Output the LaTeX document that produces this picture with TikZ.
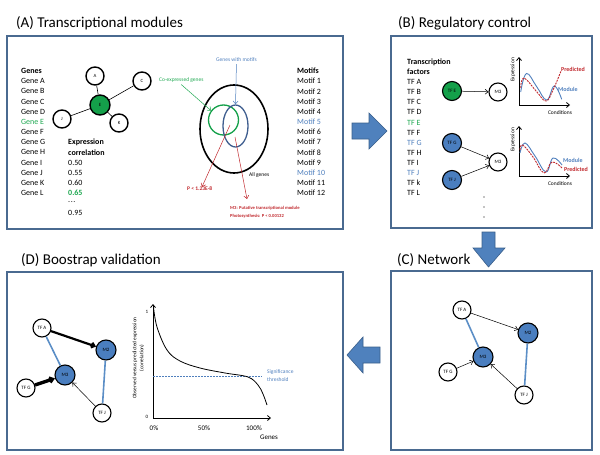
\documentclass[tikz,border=0pt]{standalone}
\usepackage{fontspec}
\setmainfont{Carlito}
\usetikzlibrary{arrows.meta,shapes.geometric}
\definecolor{frame}{HTML}{4A6A90}
\definecolor{ablue}{HTML}{4F81BD}
\definecolor{adark}{HTML}{3A5F8B}
\definecolor{ngreen}{HTML}{14A04A}
\definecolor{tgreen}{HTML}{1FA851}
\definecolor{tblue}{HTML}{4F7FBD}
\definecolor{nblue}{HTML}{4A7EBF}
\definecolor{lblue}{HTML}{5B8EC6}
\definecolor{vblue}{HTML}{3F5E8F}
\definecolor{tred}{HTML}{C0282D}
\begin{document}
\begin{tikzpicture}[x=1pt,y=-1pt,
  panel/.style={draw=frame,line width=1.1pt},
  ttl/.style={anchor=west,inner sep=0,font=\fontsize{15}{17}\selectfont},
  lst/.style={anchor=west,inner sep=0,font=\fontsize{8}{9}\selectfont},
  hdr/.style={anchor=west,inner sep=0,font=\fontsize{8}{9}\selectfont\bfseries},
  gnode/.style={circle,draw,line width=1.4pt,fill=white,minimum size=18pt,inner sep=0,font=\fontsize{4.8}{5}\selectfont},
  tnode/.style={circle,draw,line width=1.1pt,fill=white,minimum size=18pt,inner sep=0,font=\fontsize{5}{5}\selectfont},
  mnode/.style={tnode,fill=nblue,minimum size=20pt},
  bigarrow/.style={fill=ablue,draw=adark,line width=0.6pt},
  arr/.style={-{Straight Barb[length=3pt,width=5pt]},line width=0.5pt},
  axisl/.style={{Straight Barb[length=3pt,width=5pt]}-{Straight Barb[length=3pt,width=5pt]},line width=0.8pt},
  small/.style={inner sep=0,font=\fontsize{5.5}{6.5}\selectfont},
  bline/.style={draw=lblue,line width=1.6pt},
]
\useasboundingbox (0,0) rectangle (600,455);

% ---------- panels ----------
\draw[panel] (7,36) rectangle (343,229);
\draw[panel] (391,36) rectangle (592,228);
\draw[panel] (391,271) rectangle (592,450);
\draw[panel] (7,272) rectangle (343,450);
\node[ttl] (tA) at (16,23) {(A) Transcriptional modules};
\node[ttl] (tB) at (398,23) {(B) Regulatory control};
\node[ttl] (tC) at (397,260) {(C) Network};
\node[ttl] (tD) at (21,260) {(D) Boostrap validation};

% ---------- big arrows ----------
\draw[bigarrow] (352,123) -- (369,123) -- (369,113) -- (387,131) -- (369,149) -- (369,139) -- (352,139) -- cycle;
\draw[bigarrow] (482,232) -- (495,232) -- (495,248) -- (505,248) -- (488.5,267) -- (473,248) -- (482,248) -- cycle;
\draw[bigarrow] (380,347) -- (363,347) -- (363,337) -- (347,355) -- (363,373) -- (363,363) -- (380,363) -- cycle;

% ---------- Panel A ----------
\node[hdr] (genes) at (21,71) {Genes};
\foreach \g/\c [count=\i] in {A/black,B/black,C/black,D/black,E/tgreen,F/black,G/black,H/black,I/black,J/black,K/black,L/black}
  \node[lst,text=\c] (gene\i) at (21,71+10.17*\i) {Gene \g};
\node[hdr] (expr1) at (68,142.2) {Expression};
\node[hdr] (expr2) at (68,152.4) {correlation};
\node[lst] (v1) at (68,162.6) {0.50};
\node[lst] (v2) at (68,172.7) {0.55};
\node[lst] (v3) at (68,182.9) {0.60};
\node[lst,text=tgreen,font=\fontsize{8}{9}\selectfont\bfseries] (v4) at (68,193.1) {0.65};
\node[lst] (v5) at (68,202.5) {.\kern0.6pt.\kern0.6pt.};
\node[lst] (v6) at (68,213.4) {0.95};

\node[gnode] (nA) at (95,76) {A};
\node[gnode] (nC) at (142,81) {C};
\node[gnode] (nJ) at (62,119) {J};
\node[gnode] (nK) at (119,123) {K};
\node[gnode,fill=ngreen,minimum size=20pt] (nE) at (100,105) {E};
\draw[line width=0.6pt] (nE) -- (nA);
\draw[line width=0.6pt] (nE) -- (nC);
\draw[line width=0.6pt] (nE) -- (nJ);
\draw[line width=0.6pt] (nE) -- (nK);

\node[ellipse,draw,line width=1.6pt,minimum width=68pt,minimum height=88pt,inner sep=0] (allg) at (234,129) {};
\node[circle,draw=ngreen,line width=1.3pt,minimum size=30pt,inner sep=0] (gc) at (223.5,120) {};
\node[ellipse,draw=vblue,line width=1.3pt,minimum width=25pt,minimum height=42pt,inner sep=0] (bc) at (235.5,126) {};
\node[small,anchor=west,text=tgreen] (colbl) at (159,80) {Co-expressed genes};
\node[small,anchor=west,text=tblue] (mlbl) at (216,60) {Genes with motifs};
\draw[arr,draw=tgreen] (colbl.south) ++(0,2) -- (gc.143);
\draw[arr,draw=tblue] (mlbl.south) ++(0,2) -- (bc.north);
\node[small,anchor=west] (alllbl) at (249,175) {All genes};
\node[small,anchor=west,text=tred,font=\fontsize{5.5}{6.5}\selectfont\bfseries] (pval) at (187,189) {P < 1.23E-8};
\node[small,anchor=west,text=tred,font=\fontsize{4.6}{6}\selectfont\bfseries] (m3lbl) at (230,208) {M3: Putative transcriptional module};
\node[small,anchor=west,text=tred,font=\fontsize{4.6}{6}\selectfont\bfseries] (photo) at (230,216) {Photosynthesis: P < 0.00132};
\coordinate (r1s) at (230,125);
\coordinate (r2s) at (235,137);
\coordinate (r2e) at (247,199);
\draw[arr,draw=tred] (r1s) -- (pval.north -| 202,0);
\draw[arr,draw=tred] (r2s) -- (r2e);

\node[hdr] (motifs) at (297,71) {Motifs};
\foreach \c [count=\i] in {black,black,black,black,tblue,black,black,black,black,tblue,black,black}
  \node[lst,text=\c] (motif\i) at (297,71+10.17*\i) {Motif \i};

% ---------- Panel B ----------
\node[hdr] (tf1) at (407,62) {Transcription};
\node[hdr] (tf2) at (407,72) {factors};
\foreach \g/\c [count=\i] in {A/black,B/black,C/black,D/black,E/tgreen,F/black,G/tblue,H/black,I/black,J/tblue,k/black,L/black}
  \node[lst,text=\c] (tfl\i) at (407,72+10.1*\i) {TF \g};

\node[tnode,fill=ngreen,minimum size=19pt] (btfe) at (452,91) {TF E};
\node[tnode] (bm3a) at (498,92) {M3};
\node[tnode,fill=nblue,minimum size=19pt] (btfg) at (452,143) {TF G};
\node[tnode,fill=nblue,minimum size=19pt] (btfj) at (452,180) {TF J};
\node[tnode] (bm3b) at (498,162) {M3};
\draw[arr] (btfe) -- (bm3a);
\draw[arr] (btfg) -- (bm3b);
\draw[arr] (btfj) -- (bm3b);
\fill (484,197) circle (0.6);
\fill (484,207) circle (0.6);
\fill (484,217) circle (0.6);

% chart 1
\coordinate (c1t) at (519,57);
\coordinate (c1o) at (519,105);
\coordinate (c1r) at (570,105);
\draw[axisl] (c1t) -- (c1o) -- (c1r);
\node[small,rotate=90] (c1y) at (513,70) {Expression};
\node[small] (c1x) at (560,113) {Conditions};
\draw[tblue,line width=0.9pt] plot[smooth,tension=0.7] coordinates {(520.7,92) (526.5,73.5) (536.7,86.7) (546.7,100) (554.3,86) (561.7,99.3)};
\draw[tred,line width=0.9pt,dashed,dash pattern=on 2pt off 1pt] plot[smooth,tension=0.7] coordinates {(520.7,88) (524,78) (536.7,91.7) (546,101) (553,90) (561,71)};
\node[small,anchor=west,text=tred,font=\fontsize{6}{7}\selectfont\bfseries] (c1p) at (561,69) {Predicted};
\node[small,anchor=west,text=tblue,font=\fontsize{6}{7}\selectfont\bfseries] (c1m) at (558,89) {Module};

% chart 2
\coordinate (c2t) at (519,126);
\coordinate (c2o) at (519,176);
\coordinate (c2r) at (570,176);
\draw[axisl] (c2t) -- (c2o) -- (c2r);
\node[small,rotate=90] (c2y) at (513,140) {Expression};
\node[small] (c2x) at (560,184) {Conditions};
\draw[tblue,line width=0.9pt] plot[smooth,tension=0.7] coordinates {(520,153) (525,143) (535,156) (546,172) (553,158) (562,165)};
\draw[tred,line width=0.9pt,dashed,dash pattern=on 2pt off 1pt] plot[smooth,tension=0.7] coordinates {(520,150) (522.7,145) (533,157) (544,173) (552,162) (562,168)};
\node[small,anchor=west,text=tblue,font=\fontsize{6}{7}\selectfont\bfseries] (c2m) at (563,160) {Module};
\node[small,anchor=west,text=tred,font=\fontsize{6}{7}\selectfont\bfseries] (c2p) at (564,169) {Predicted};

% ---------- Panel C ----------
\node[tnode] (ctfa) at (462,310) {TF A};
\node[mnode] (cm2) at (528,333) {M2};
\node[mnode] (cm3) at (483,357) {M3};
\node[tnode] (ctfg) at (448,372) {TF G};
\node[tnode] (ctfj) at (524,395) {TF J};
\draw[bline] (ctfa) -- (cm3);
\draw[bline] (ctfj) -- (cm2);
\draw[arr] (ctfa) -- (cm2);
\draw[arr] (ctfg) -- (cm3);
\draw[arr] (ctfj) -- (cm3);

% ---------- Panel D ----------
\node[tnode] (dtfa) at (42,328) {TF A};
\node[mnode] (dm2) at (106,350) {M2};
\node[mnode] (dm3) at (65,375) {M3};
\node[tnode] (dtfg) at (26,388) {TF G};
\node[tnode] (dtfj) at (102,413) {TF J};
\draw[bline] (dtfa) -- (dm3);
\draw[bline] (dtfj) -- (dm2);
\draw[-{Straight Barb[length=3pt,width=5pt]},line width=2.2pt] (dtfa) -- (dm2);
\draw[-{Straight Barb[length=3pt,width=4.5pt]},line width=3.4pt] (dtfg) -- (dm3);
\draw[arr] (dtfj) -- (dm3);

\coordinate (dyt) at (153,304);
\coordinate (dor) at (153,418);
\coordinate (dxr) at (271,418);
\draw[axisl] (dyt) -- (dor) -- (dxr);
\node[small,font=\fontsize{5}{6}\selectfont] (d1) at (147,312) {1};
\node[small,font=\fontsize{5}{6}\selectfont] (d0) at (147,417) {0};
\node[small,font=\fontsize{7}{8}\selectfont] (p0) at (154,428) {0\%};
\node[small,font=\fontsize{7}{8}\selectfont] (p50) at (204,428) {50\%};
\node[small,font=\fontsize{7}{8}\selectfont] (p100) at (254,428) {100\%};
\node[small,font=\fontsize{7}{8}\selectfont] (dg) at (269,437) {Genes};
\node[small,rotate=90,align=center,font=\fontsize{5.3}{7}\selectfont] (dyl) at (138.5,358) {Observed versus predicted expression\\(correlation)};
\draw[tblue,dashed,dash pattern=on 2pt off 1pt,line width=0.6pt] (153,376) -- (262,376);
\draw[line width=0.8pt] plot[smooth,tension=0.6] coordinates {(153.5,307) (157,327) (167,350) (180,361) (200,368) (225,373) (248,377) (258,385) (263,394) (267,405)};
\node[small,anchor=west,text=tblue,align=left,font=\fontsize{5.5}{8}\selectfont] (sig) at (267,376) {Significance\\threshold};
\end{tikzpicture}
\end{document}
